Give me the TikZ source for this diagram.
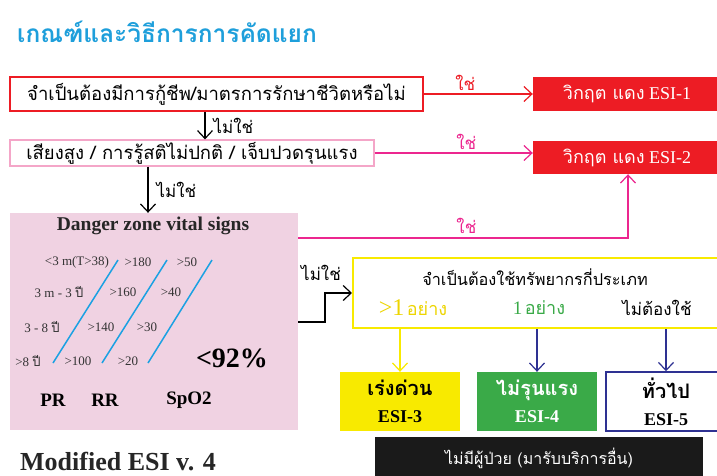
\documentclass[tikz,border=0pt]{standalone}
\usepackage{fontspec}
\setmainfont{Liberation Serif}
\newfontfamily\thai[Script=Thai]{Loma}
\usetikzlibrary{arrows.meta,calc}
\definecolor{titleblue}{HTML}{1E9FDB}
\definecolor{redA}{HTML}{ED1C24}
\definecolor{pinkline}{HTML}{F4A6C8}
\definecolor{magentaA}{HTML}{EC268F}
\definecolor{pinkfill}{HTML}{F0D2E2}
\definecolor{cyanA}{HTML}{1BA1E2}
\definecolor{yellowA}{HTML}{F8EA00}
\definecolor{yellowT}{HTML}{EDD500}
\definecolor{greenA}{HTML}{3AAA48}
\definecolor{navyA}{HTML}{2E3192}
\definecolor{blackA}{HTML}{1A1A1A}
\tikzset{
  arr/.style={-{Straight Barb[length=8pt,width=15pt]}, line width=1.2pt},
  thaitxt/.style={font=\thai\fontsize{#1}{#1}\selectfont},
  small/.style={font=\fontsize{13}{13}\selectfont, text=black!80, inner sep=0pt},
  big/.style={font=\bfseries\fontsize{19}{19}\selectfont, inner sep=0pt},
  esibox/.style={minimum width=120pt, minimum height=59pt, align=center, inner sep=0pt,
    font=\bfseries\fontsize{18}{27}\selectfont},
}
\begin{document}
\begin{tikzpicture}[x=1pt,y=-1pt]
\clip (0,0) rectangle (717,475);
\fill[white] (0,0) rectangle (717,475);

% title
\node[font=\thai\bfseries\fontsize{24.5}{24.5}\selectfont, text=titleblue, anchor=west, inner sep=0pt] (title) at (17,32) {เกณฑ์และวิธีการการคัดแยก};

% question boxes
\node[draw=redA, line width=1.5pt, minimum width=413pt, minimum height=34pt, inner sep=0pt, thaitxt=18.5] (q1) at (216.5,94) {จำเป็นต้องมีการกู้ชีพ/มาตรการรักษาชีวิตหรือไม่};
\node[draw=pinkline, line width=1.2pt, minimum width=364pt, minimum height=26pt, inner sep=0pt, thaitxt=18.5] (q2) at (192,153) {เสียงสูง / การรู้สติไม่ปกติ / เจ็บปวดรุนแรง};

% ESI-1 / ESI-2
\node[fill=redA, text=white, minimum width=188pt, minimum height=34pt, inner sep=0pt, font=\fontsize{18}{18}\selectfont] (e1) at (627,94) {{\thai วิกฤต แดง} ESI-1};
\node[fill=redA, text=white, minimum width=188pt, minimum height=33pt, inner sep=0pt, font=\fontsize{18}{18}\selectfont] (e2) at (627,157.5) {{\thai วิกฤต แดง} ESI-2};

% danger zone box
\node[fill=pinkfill, minimum width=288pt, minimum height=217pt, inner sep=0pt] (dz) at (154,321.5) {};
\node[font=\bfseries\fontsize{19.5}{19.5}\selectfont, text=black!85, inner sep=0pt] (dzt) at (153,226) {Danger zone vital signs};
\draw[cyanA, line width=1.5pt] (53,363) -- (118,260);
\draw[cyanA, line width=1.5pt] (102,363) -- (167,260);
\draw[cyanA, line width=1.5pt] (148,363) -- (212,260);
\node[small] (a1) at (77,262) {<3 m(T>38)};
\node[small] (a2) at (138,262) {>180};
\node[small] (a3) at (187,262) {>50};
\node[small] (b1) at (59,292) {3 m - 3 {\thai ปี}};
\node[small] (b2) at (123,292) {>160};
\node[small] (b3) at (171,292) {>40};
\node[small] (c1) at (42,327) {3 - 8 {\thai ปี}};
\node[small] (c2) at (101,327) {>140};
\node[small] (c3) at (147,327) {>30};
\node[small] (d1) at (28,361) {>8 {\thai ปี}};
\node[small] (d2) at (78,361) {>100};
\node[small] (d3) at (128,361) {>20};
\node[font=\bfseries\fontsize{28}{28}\selectfont, inner sep=0pt] (sp) at (232,358) {<92\%};
\node[big] (pr) at (53,400) {PR};
\node[big] (rr) at (105,400) {RR};
\node[big] (so) at (189,400) {SpO2};

% resources box
\node[draw=yellowA, line width=2pt, minimum width=377pt, minimum height=70pt, inner sep=0pt] (yb) at (541.5,293) {};
\node[thaitxt=16.3, inner sep=0pt] (ybt) at (535,277) {จำเป็นต้องใช้ทรัพยากรกี่ประเภท};
\node[text=yellowT, inner sep=0pt] (o1) at (413,308) {{\fontsize{24}{24}\selectfont >1} {\thai\fontsize{18}{18}\selectfont อย่าง}};
\node[text=greenA, inner sep=0pt] (o2) at (539,308) {{\fontsize{19}{19}\selectfont 1} {\thai\fontsize{18}{18}\selectfont อย่าง}};
\node[thaitxt=17, inner sep=0pt] (o3) at (657,308) {ไม่ต้องใช้};

% ESI-3/4/5
\node[esibox, fill=yellowA] (e3) at (400,401.5) {{\thai\fontsize{20}{20}\selectfont เร่งด่วน}\\ESI-3};
\node[esibox, fill=greenA, text=white] (e4) at (537,401.5) {{\thai\fontsize{20}{20}\selectfont ไม่รุนแรง}\\ESI-4};
\node[esibox, draw=navyA, line width=1.5pt, fill=white] (e5) at (666,401.5) {{\thai\fontsize{20}{20}\selectfont ทั่วไป}\\ESI-5};

% no patient box
\node[fill=blackA, text=white, minimum width=328pt, minimum height=43pt, inner sep=0pt, thaitxt=16] (nb) at (539,458.5) {ไม่มีผู้ป่วย (มารับบริการอื่น)};

% footer
\node[font=\bfseries\fontsize{26}{26}\selectfont, anchor=base west, inner sep=0pt, text depth=0pt, text=black!85] (mod) at (20,470) {Modified ESI v. 4};

% connectors
\coordinate (x1) at (205,0);
\coordinate (x2) at (148,0);
\coordinate (k1) at (628,238);
\coordinate (k2) at (325,322);
\coordinate (k3) at (325,293);

\draw[arr, redA] (q1.east) -- node[pos=0.38, above=3pt, thaitxt=17, text=redA, inner sep=0pt] (l1) {ใช่} (e1.west);
\draw[arr, black] (q1.south -| x1) -- node[right=8pt, thaitxt=17, text=black, inner sep=0pt] (l2) {ไม่ใช่} (q2.north -| x1);
\draw[arr, magentaA] (q2.east) -- node[pos=0.58, above=3pt, thaitxt=17, text=magentaA, inner sep=0pt] (l3) {ใช่} (q2.east -| e2.west);
\draw[arr, black] (q2.south -| x2) -- node[right=8pt, thaitxt=17, text=black, inner sep=0pt] (l4) {ไม่ใช่} (dz.north -| x2);
\draw[arr, magentaA] (dz.east |- k1) -- node[pos=0.51, above=4pt, thaitxt=17, text=magentaA, inner sep=0pt] (l5) {ใช่} (k1) -- (k1 |- e2.south);
\draw[arr, black] (dz.east |- k2) -- (k2) -- (k3) -- (yb.west);
\node[thaitxt=17, inner sep=0pt] (l6) at (321,273) {ไม่ใช่};
\draw[arr, yellowA] (yb.south -| e3.north) -- (e3.north);
\draw[arr, navyA] (yb.south -| e4.north) -- (e4.north);
\draw[arr, navyA] (yb.south -| e5.north) -- (e5.north);
\end{tikzpicture}
\end{document}
